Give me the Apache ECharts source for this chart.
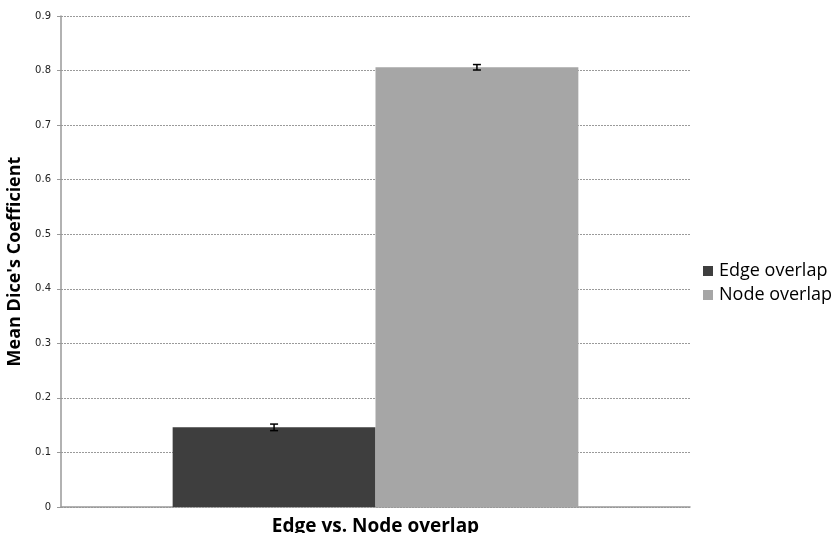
<!DOCTYPE html>
<html>
<head>
<meta charset="utf-8">
<script src="https://cdn.jsdelivr.net/npm/echarts@6/dist/echarts.min.js"></script>
<style>html,body{margin:0;padding:0;background:#fff}#c{width:839px;height:533px}</style>
</head>
<body>
<div id="c"></div>
<script>
const categories = [''];
const seriesNames = ['Edge overlap', 'Node overlap'];
const edgeValues = [0.146];
const nodeValues = [0.806];
const edgeErr = [0.006];
const nodeErr = [0.005];
const yTicks = [0, 0.1, 0.2, 0.3, 0.4, 0.5, 0.6, 0.7, 0.8, 0.9];

const colors = ['#3e3e3e', '#a6a6a6'];
const barCatGap = 0.355;

const chart = echarts.init(document.getElementById('c'));

function errSeries(idx, vals, errs) {
  return {
    type: 'custom',
    name: seriesNames[idx] + ' err',
    z: 10,
    silent: true,
    data: vals.map((v, i) => [i, v - errs[i], v + errs[i]]),
    renderItem: function (params, api) {
      const i = api.value(0);
      const lo = api.coord([i, api.value(1)]);
      const hi = api.coord([i, api.value(2)]);
      const band = api.size([1, 0])[0];
      const bw = band * (1 - barCatGap) / 2;
      const x = lo[0] + (idx === 0 ? -bw / 2 : bw / 2);
      const cap = 4;
      const st = { stroke: '#000', lineWidth: 1.5 };
      return {
        type: 'group',
        children: [
          { type: 'line', shape: { x1: x, y1: lo[1], x2: x, y2: hi[1] }, style: st },
          { type: 'line', shape: { x1: x - cap, y1: lo[1], x2: x + cap, y2: lo[1] }, style: st },
          { type: 'line', shape: { x1: x - cap, y1: hi[1], x2: x + cap, y2: hi[1] }, style: st }
        ]
      };
    }
  };
}

chart.setOption({
  animation: false,
  backgroundColor: '#fff',
  grid: { left: 61, right: 149, top: 16, bottom: 26, containLabel: false, outerBoundsMode: 'none' },
  legend: {
    data: seriesNames,
    orient: 'vertical',
    left: 698,
    top: 257,
    itemWidth: 10,
    itemHeight: 10,
    itemGap: 6,
    textStyle: { fontFamily: 'Open Sans', fontSize: 18, color: '#000', padding: [0, 0, 0, 1] },
    icon: 'rect'
  },
  xAxis: {
    type: 'category',
    data: categories,
    name: 'Edge vs. Node overlap',
    nameLocation: 'middle',
    nameGap: 10,
    nameTextStyle: { fontFamily: 'Open Sans', fontWeight: 'bold', fontSize: 19, color: '#000' },
    axisLine: { lineStyle: { color: '#999', width: 1.5 } },
    axisTick: { show: false },
    axisLabel: { show: false }
  },
  yAxis: {
    type: 'value',
    min: 0,
    max: 0.9,
    interval: 0.1,
    name: "Mean Dice's Coefficient",
    nameLocation: 'middle',
    nameGap: 31,
    nameTextStyle: { fontFamily: 'Open Sans', fontWeight: 'bold', fontSize: 18, color: '#000' },
    axisLine: { show: true, lineStyle: { color: '#999', width: 1.5 } },
    axisTick: { show: true, length: 4, inside: false, lineStyle: { color: '#999' } },
    axisLabel: {
      fontFamily: 'DejaVu Sans',
      fontSize: 10,
      color: '#222',
      margin: 10,
      formatter: v => {
        const t = yTicks.find(x => Math.abs(x - v) < 1e-9);
        return t === undefined ? '' : String(t);
      }
    },
    splitLine: { lineStyle: { color: '#9a9a9a', width: 1, type: [2, 1] } }
  },
  series: [
    {
      type: 'bar',
      name: seriesNames[0],
      data: edgeValues,
      barGap: '0%',
      barCategoryGap: (barCatGap * 100) + '%',
      itemStyle: { color: colors[0] }
    },
    {
      type: 'bar',
      name: seriesNames[1],
      data: nodeValues,
      barGap: '0%',
      barCategoryGap: (barCatGap * 100) + '%',
      itemStyle: { color: colors[1] }
    },
    errSeries(0, edgeValues, edgeErr),
    errSeries(1, nodeValues, nodeErr)
  ]
});
</script>
</body>
</html>
